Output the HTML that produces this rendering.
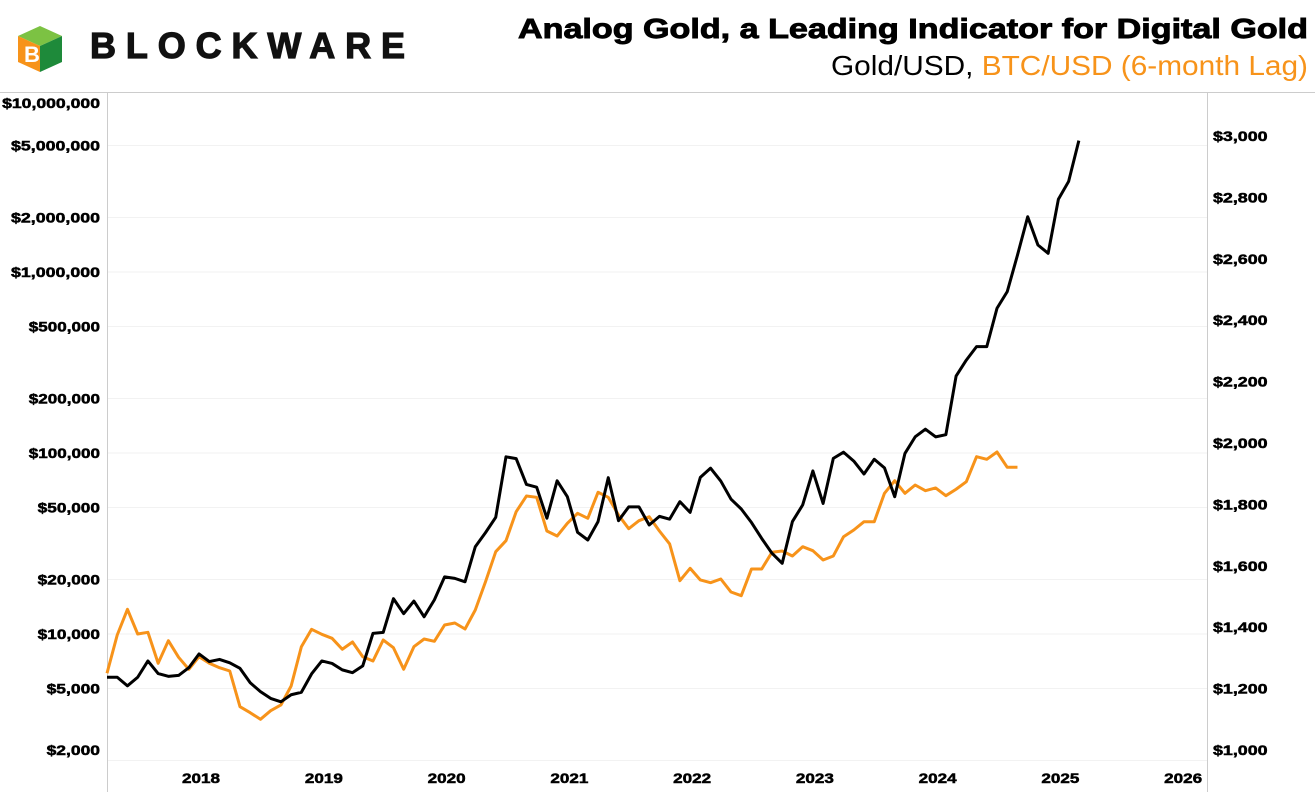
<!DOCTYPE html>
<html><head><meta charset="utf-8"><style>
body{margin:0;background:#fff;font-family:"Liberation Sans",Arial,sans-serif;}
svg{display:block}
</style></head><body>
<svg id="chart" width="1315" height="792">
<g>
<polygon points="18,36 40,26 62,36 40,46" fill="#7cc243"/>
<polygon points="18,36 40,46 40,72 18,62" fill="#f7931a"/>
<polygon points="40,46 62,36 62,62 40,72" fill="#1e8a3a"/>
<text x="24" y="62" font-size="22" font-weight="bold" fill="#fff">B</text>
<text x="90" y="58" font-size="36" font-weight="bold" stroke="#111" stroke-width="1.2" textLength="315" lengthAdjust="spacing" fill="#111">BLOCKWARE</text>
</g>
<text x="518" y="38" textLength="790" lengthAdjust="spacingAndGlyphs" font-size="28" font-weight="bold" stroke="#000" stroke-width="0.9" fill="#000">Analog Gold, a Leading Indicator for Digital Gold</text>
<text x="831" y="75" textLength="477" lengthAdjust="spacingAndGlyphs" font-size="28"><tspan fill="#000">Gold/USD, </tspan><tspan fill="#f7931a">BTC/USD (6-month Lag)</tspan></text>
<line x1="0" y1="92.5" x2="1315" y2="92.5" stroke="#ccc"/>
<g id="grid"></g>
<line x1="107.5" y1="92" x2="107.5" y2="792" stroke="#ccc"/>
<line x1="1207.5" y1="92" x2="1207.5" y2="792" stroke="#ccc"/>
<g id="labels"></g>
<g id="series"></g>
</svg>
<script>
const leftTicks=[10000000,5000000,2000000,1000000,500000,200000,100000,50000,20000,10000,5000,2000];
const rightTicks=[1000,1200,1400,1600,1800,2000,2200,2400,2600,2800,3000];
const yearTicks=[2018,2019,2020,2021,2022,2023,2024,2025,2026];
const gold=[1237,1237,1209,1237,1290,1249,1240,1243,1268,1313,1288,1295,1284,1266,1219,1190,1168,1157,1180,1188,1248,1290,1282,1261,1252,1274,1380,1383,1493,1444,1485,1434,1489,1564,1559,1548,1662,1708,1758,1955,1949,1865,1856,1755,1877,1825,1709,1684,1744,1887,1747,1792,1792,1733,1761,1752,1809,1774,1888,1918,1876,1817,1785,1741,1689,1641,1608,1744,1798,1909,1803,1950,1970,1941,1899,1947,1919,1825,1966,2020,2045,2020,2027,2218,2270,2314,2314,2439,2493,2612,2737,2645,2618,2794,2852,2985];
const btc=[6067,9874,13690,10000,10219,6890,9184,7433,6383,7490,6890,6514,6245,3966,3674,3379,3769,4053,5161,8506,10617,9962,9468,8233,9033,7490,7091,9265,8400,6383,8506,9384,9114,11213,11500,10656,13570,19450,28490,32770,47400,57860,56910,37070,34780,40890,46440,43580,60670,56910,45460,38190,42270,44460,37070,31430,19700,23070,19880,19210,20130,17060,16280,22870,22870,28280,28740,26980,30360,28860,25640,26980,34480,37540,41730,41730,59900,70300,59900,66560,61900,64080,58090,63040,69390,95400,92300,101300,83370,83370];
const startYear=2017+3/12;
const NS="http://www.w3.org/2000/svg";
function xS(monthIdx){return 107+monthIdx*10.23;}
function xYear(y){return xS((y-startYear)*12);}
function yL(v){return 634-181*(Math.log10(v)-4);}
function yR(v){return 750-(v-1000)*0.307;}
function mk(tag,attrs,parent){const e=document.createElementNS(NS,tag);for(const k in attrs)e.setAttribute(k,attrs[k]);parent.appendChild(e);return e;}
const grid=document.getElementById('grid'),labels=document.getElementById('labels'),series=document.getElementById('series');
function fmt(v){return '$'+v.toLocaleString('en-US');}
const lab={'font-size':14,'font-weight':'bold',stroke:'#000','stroke-width':0.5,lengthAdjust:'spacingAndGlyphs'};
leftTicks.forEach(v=>{
  const y=yL(v);
  if(y>92&&y<765){const g=mk('line',{x1:107,x2:1207,y1:y,y2:y,stroke:'#f2f2f2'},grid);
  
  }
  const s=fmt(v);
  const t=mk('text',Object.assign({x:100,y:Math.min(Math.max(y,103),750)+5,'text-anchor':'end',textLength:s.length*8.9},lab),labels);
  t.textContent=s;
  
  
});
rightTicks.forEach(v=>{
  const s=fmt(v);
  const t=mk('text',Object.assign({x:1213,y:yR(v)+5,textLength:s.length*9.1},lab),labels);
  t.textContent=s;
  
  
});
yearTicks.forEach(yr=>{
  const t=mk('text',Object.assign({x:xYear(yr)+2,y:783,'text-anchor':'middle',textLength:38},lab),labels);
  t.textContent=yr;
  
  
});
const bp=mk('polyline',{points:btc.map((v,i)=>xS(i)+','+yL(v)).join(' '),fill:'none',stroke:'#f7931a','stroke-width':3,'stroke-linejoin':'round'},series);


const gp=mk('polyline',{points:gold.map((v,i)=>xS(i)+','+yR(v)).join(' '),fill:'none',stroke:'#000','stroke-width':3,'stroke-linejoin':'round'},series);


</script>
</body></html>
